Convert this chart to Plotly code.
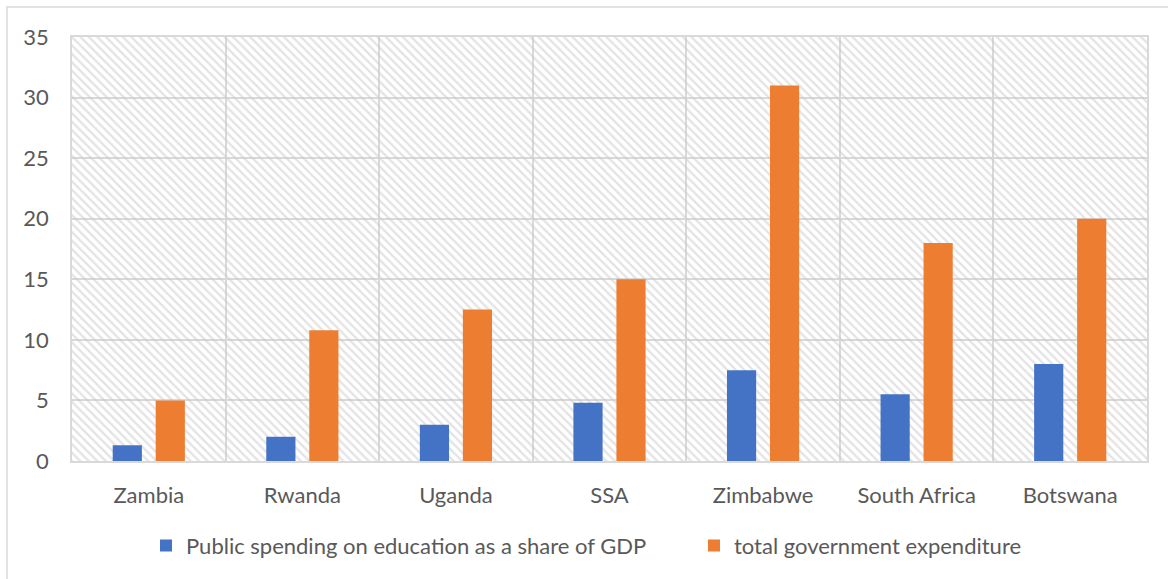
import plotly.graph_objects as go

categories = ["Zambia", "Rwanda", "Uganda", "SSA", "Zimbabwe", "South Africa", "Botswana"]
edu_share_gdp = [1.3, 2.0, 3.0, 4.8, 7.5, 5.5, 8.0]
total_gov_exp = [5.0, 10.8, 12.5, 15.0, 31.0, 18.0, 20.0]
y_ticks = [0, 5, 10, 15, 20, 25, 30, 35]
y_max = 35

FONT = "Lato, 'Open Sans', sans-serif"
GRID = "#d9d9d9"

fig = go.Figure()

# hatched plot background
fig.add_trace(go.Bar(
    x=categories, y=[y_max] * len(categories),
    width=1, offset=-0.5,
    marker=dict(color="rgba(0,0,0,0)", line=dict(width=0),
                pattern=dict(shape="\\", fgcolor="#c8c8c8", bgcolor="rgba(0,0,0,0)",
                             size=6, solidity=0.38)),
    showlegend=False, hoverinfo="skip",
))

fig.add_trace(go.Bar(
    x=categories, y=edu_share_gdp, name="Public spending on education as a share of GDP",
    marker=dict(color="#4472c4", line=dict(width=0)),
    width=0.19, offset=-0.235, legend="legend",
))
fig.add_trace(go.Bar(
    x=categories, y=total_gov_exp, name="total government expenditure",
    marker=dict(color="#ed7d31", line=dict(width=0)),
    width=0.19, offset=0.045, legend="legend2",
))

legend_common = dict(orientation="h", xanchor="left", y=-0.2, yanchor="middle",
                     font=dict(size=22, color="#595959"), bgcolor="rgba(0,0,0,0)")

fig.update_layout(
    width=1168, height=579,
    margin=dict(l=72, r=21, t=37, b=118),
    paper_bgcolor="white", plot_bgcolor="white",
    barmode="overlay",
    font=dict(family=FONT, size=22, color="#595959"),
    legend=dict(x=(146 - 72) / 1075, **legend_common),
    legend2=dict(x=(694 - 72) / 1075, **legend_common),
    xaxis=dict(
        type="category", tickson="boundaries", showgrid=True, gridcolor=GRID, gridwidth=1.5,
        showline=True, linecolor=GRID, linewidth=1.5, mirror=True,
        ticks="", ticklabelstandoff=14, range=[-0.5, 6.5],
    ),
    yaxis=dict(
        range=[0, y_max], tickvals=y_ticks, showgrid=True, gridcolor=GRID, gridwidth=1.5,
        showline=True, linecolor=GRID, linewidth=1.5, mirror=True,
        ticks="", ticklabelstandoff=17, zeroline=False,
    ),
    shapes=[dict(type="rect", xref="paper", yref="paper",
                 x0=(7 - 72) / 1075, x1=(1180 - 72) / 1075,
                 y0=(461 - 595) / 424, y1=(461 - 7) / 424,
                 line=dict(color="#d9d9d9", width=1.5), fillcolor="rgba(0,0,0,0)",
                 layer="below")],
)

fig.write_html("out.html")
